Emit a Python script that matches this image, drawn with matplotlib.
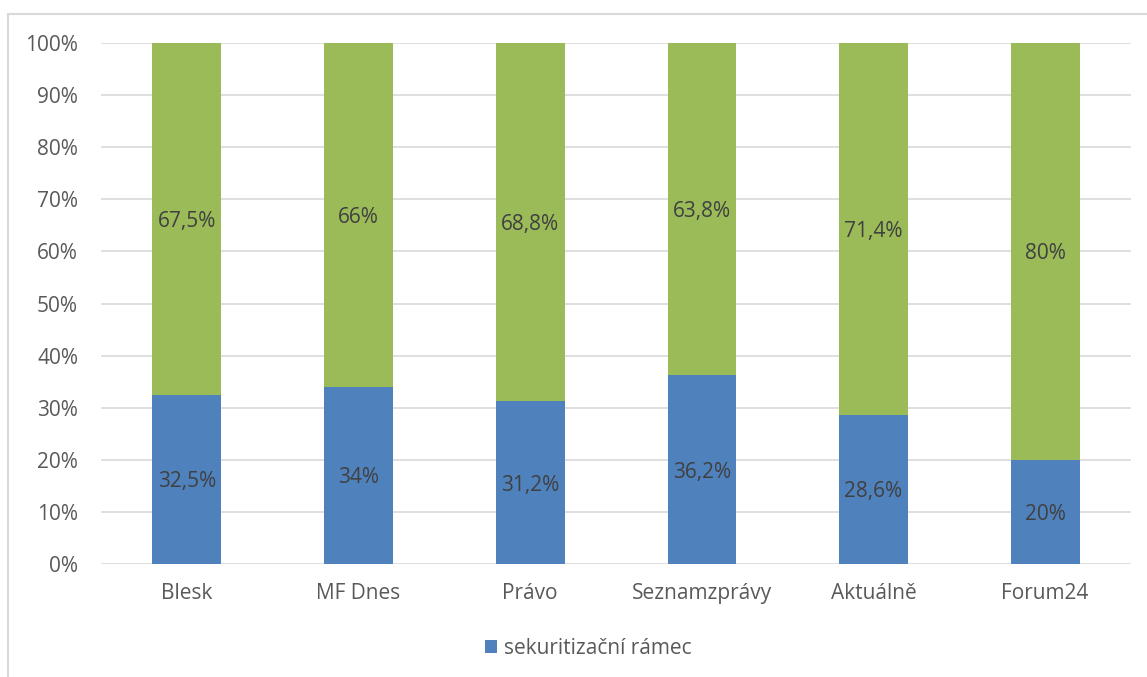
import matplotlib
matplotlib.use("Agg")
import matplotlib.pyplot as plt
from matplotlib.patches import Rectangle

categories = ["Blesk", "MF Dnes", "Právo", "Seznamzprávy", "Aktuálně", "Forum24"]
sekuritizacni = [32.5, 34, 31.2, 36.2, 28.6, 20]
ostatni = [67.5, 66, 68.8, 63.8, 71.4, 80]
blue_labels = ["32,5%", "34%", "31,2%", "36,2%", "28,6%", "20%"]
green_labels = ["67,5%", "66%", "68,8%", "63,8%", "71,4%", "80%"]
yticks = [0, 10, 20, 30, 40, 50, 60, 70, 80, 90, 100]
legend_label = "sekuritizační rámec"

plt.rcParams['font.family'] = ['Open Sans', 'DejaVu Sans']
FS = 15

W, H = 1147, 677
fig = plt.figure(figsize=(W / 100, H / 100), dpi=100)
# outer chart border
fig.patches.append(Rectangle((8 / W, -0.1), 1.2, 1 - 14 / H + 0.1, transform=fig.transFigure,
                             fill=False, edgecolor="#D9D9D9", linewidth=1.5))

ax = fig.add_axes([101 / W, 1 - 564 / H, (1131 - 101) / W, (564 - 43) / H])
x = list(range(len(categories)))
blue = "#4F81BD"
green = "#9BBB59"
b1 = ax.bar(x, sekuritizacni, width=0.4, color=blue, zorder=3, label=legend_label)
b2 = ax.bar(x, ostatni, width=0.4, bottom=sekuritizacni, color=green, zorder=3)

for i in x:
    ax.text(i, sekuritizacni[i] / 2, blue_labels[i], ha="center", va="center_baseline",
            fontsize=FS, color="#404040", zorder=4)
    ax.text(i, sekuritizacni[i] + ostatni[i] / 2, green_labels[i], ha="center", va="center_baseline",
            fontsize=FS, color="#404040", zorder=4)

ax.set_xlim(-0.5, len(categories) - 0.5)
ax.set_ylim(0, 100)
ax.set_yticks(yticks)
ax.set_yticklabels([f"{t}%" for t in yticks])
ax.set_xticks(x)
ax.set_xticklabels(categories)
ax.tick_params(axis="both", length=0, labelsize=FS, labelcolor="#595959")
ax.tick_params(axis="y", pad=16.5)
ax.tick_params(axis="x", pad=14)
ax.grid(axis="y", color="#D9D9D9", linewidth=1.2, zorder=0)
for s in ax.spines.values():
    s.set_visible(False)

fig.legend(handles=[b1], labels=[legend_label], loc="center", bbox_to_anchor=(588 / W, 1 - 648 / H),
           frameon=False, fontsize=FS, labelcolor="#595959", handlelength=0.6, handleheight=0.6,
           handletextpad=0.3)

fig.savefig("out.png", dpi=100)
